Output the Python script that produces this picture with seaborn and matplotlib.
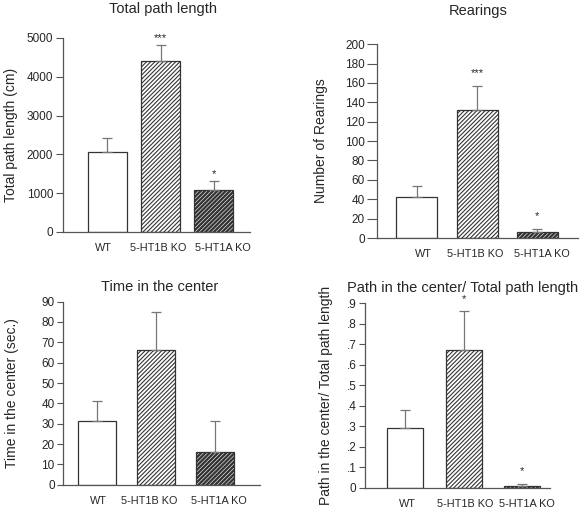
import matplotlib
matplotlib.use("Agg")
import matplotlib.pyplot as plt
import matplotlib.ticker as mticker
import seaborn as sns
import numpy as np

sns.set_style("white")
plt.rcParams['font.family'] = ['Liberation Sans', 'DejaVu Sans']
plt.rcParams['hatch.linewidth'] = 0.8

groups = ["WT", "5-HT1B KO", "5-HT1A KO"]

path_mean = [2070, 4400, 1080]
path_top = [2420, 4820, 1320]
path_stars = ["", "***", "*"]

rear_mean = [42, 132, 6]
rear_top = [54, 157, 9]
rear_stars = ["", "***", "*"]

time_mean = [31.5, 66, 16]
time_top = [41, 85, 31.5]
time_stars = ["", "", ""]

ratio_mean = [0.29, 0.67, 0.01]
ratio_top = [0.38, 0.86, 0.02]
ratio_stars = ["", "*", "*"]

hatches = ["", "////////", "////////"]
hatch_lw = [0.8, 0.8, 1.7]
edge = "#333333"

fig = plt.figure(figsize=(5.83, 5.13), dpi=100)


def panel(rect, means, tops, stars, title, ylabel, ylim, yticks, xlim, width,
          fmt=None, star_pad=0.03, title_pad=12, title_x=0.5, label_pad=4,
          tick_len=4, label_shift=(0, 0, 0)):
    ax = fig.add_axes(rect)
    sns.barplot(x=groups, y=means, color="white", edgecolor=edge, linewidth=0.9,
                width=width, ax=ax, errorbar=None)
    for bar, h, lw in zip(ax.patches, hatches, hatch_lw):
        bar.set_hatch(h)
        if hasattr(bar, "set_hatch_linewidth"):
            bar.set_hatch_linewidth(lw)
    errs = np.array(tops) - np.array(means)
    ax.errorbar(range(3), means, yerr=[np.zeros(3), errs], fmt="none",
                ecolor="#777777", elinewidth=0.9, capsize=3.5, capthick=0.9)
    span = ylim[1] - ylim[0]
    for i, s in enumerate(stars):
        if s:
            ax.text(i, tops[i] + span * star_pad, s, ha="center", va="bottom", fontsize=8)
    ax.set_ylim(*ylim)
    ax.set_xlim(*xlim)
    ax.set_yticks(yticks)
    # group labels sit slightly off the bar centres in the original
    ax.set_xticks(np.arange(3) + np.array(label_shift))
    ax.set_xticklabels(groups)
    if fmt:
        ax.yaxis.set_major_formatter(mticker.FuncFormatter(fmt))
    ax.set_title(title, fontsize=10.5, pad=title_pad, x=title_x)
    ax.set_ylabel(ylabel, fontsize=10, labelpad=label_pad)
    ax.tick_params(axis="y", labelsize=8.5, length=tick_len, width=0.8, color="#555555", left=True, pad=2)
    ax.tick_params(axis="x", labelsize=7.8, length=0, pad=8)
    sns.despine(ax=ax)
    for sp in ("left", "bottom"):
        ax.spines[sp].set_color("#555555")
        ax.spines[sp].set_linewidth(0.9)
    return ax


panel([0.108, 0.548, 0.321, 0.378], path_mean, path_top, path_stars,
      "Total path length", "Total path length (cm)", (0, 5000),
      range(0, 5001, 1000), (-0.84, 2.69), 0.72, star_pad=0.01,
      title_pad=18, title_x=0.535, label_pad=6, tick_len=5,
      label_shift=(-0.08, -0.05, 0.18))

panel([0.647, 0.536, 0.345, 0.378], rear_mean, rear_top, rear_stars,
      "Rearings", "Number of Rearings", (0, 200),
      range(0, 201, 20), (-0.66, 2.68), 0.68, star_pad=0.04,
      title_pad=21, label_pad=12, tick_len=7,
      label_shift=(0.1, -0.03, 0.08))

panel([0.108, 0.055, 0.338, 0.357], time_mean, time_top, time_stars,
      "Time in the center", "Time in the center (sec.)", (0, 90),
      range(0, 91, 10), (-0.58, 2.76), 0.65,
      title_pad=8, title_x=0.49, label_pad=16, tick_len=4,
      label_shift=(0.03, -0.12, 0.07))

panel([0.626, 0.049, 0.317, 0.36], ratio_mean, ratio_top, ratio_stars,
      "Path in the center/ Total path length", "Path in the center/ Total path length",
      (0, 0.9), np.arange(0, 0.91, 0.1), (-0.69, 2.47), 0.62,
      fmt=lambda v, p: "0" if abs(v) < 1e-9 else ("%.1f" % v)[1:], star_pad=0.04,
      title_pad=8, title_x=0.53, label_pad=10, tick_len=4,
      label_shift=(0.03, 0.03, 0.08))

fig.savefig("out.png", dpi=100)
